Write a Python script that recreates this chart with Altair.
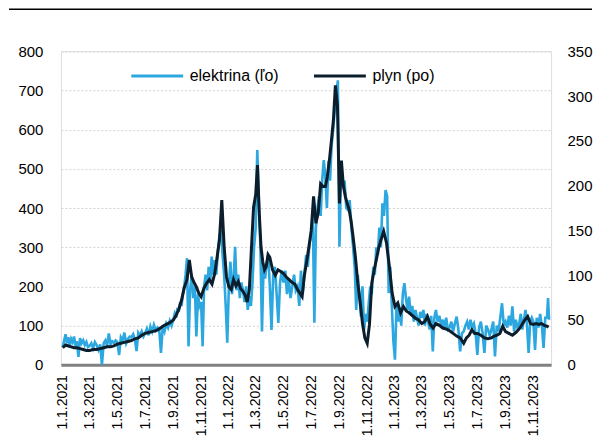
import altair as alt
import pandas as pd

ELEC_NAME = "elektrina (ľo)"
GAS_NAME = "plyn (po)"
BLUE = "#2ca7e0"
DARK = "#0c1e2c"

# electricity (left axis), one list per month
ELEC_2021 = [
    [45, 62, 78, 55, 70, 48, 66, 58, 72, 50],
    [60, 20, 68, 55, 62, 50, 58, 45],
    [48, 55, 42, 58, 50, 38, 52, 0],
    [55, 62, 48, 80, 52, 60, 56, 62],
    [58, 25, 70, 62, 82, 55, 66, 72],
    [70, 78, 65, 35, 82, 75, 85, 72],
    [80, 92, 75, 98, 85, 102, 88, 95],
    [90, 30, 98, 85, 105, 95, 112, 100],
    [115, 130, 120, 145, 135, 160, 150, 180, 200, 230],
    [272, 47, 190, 230, 170, 200, 72, 180, 150],
    [160, 47, 200, 230, 190, 250, 210, 276, 230],
    [267, 230, 290, 330, 344, 280, 230, 150, 56],
]
ELEC_2022 = [
    [200, 263, 180, 220, 301, 190, 230, 170, 210],
    [190, 160, 200, 140, 175, 150, 210, 301],
    [350, 548, 420, 300, 85, 250, 220, 260, 280],
    [200, 89, 230, 250, 180, 107, 210, 240],
    [210, 240, 180, 220, 170, 200, 230, 190],
    [200, 150, 240, 180, 230, 280, 250, 310],
    [330, 380, 107, 350, 400, 430, 380, 470, 522],
    [480, 400, 520, 470, 560, 600, 650, 690, 726],
    [301, 500, 450, 470, 400, 395, 420, 350],
    [300, 250, 140, 230, 180, 123, 200, 89, 130],
    [110, 157, 200, 180, 250, 230, 300, 280, 350],
    [300, 412, 380, 446, 430, 183, 250, 150, 60],
]
ELEC_2023 = [
    [13, 157, 110, 140, 100, 180, 208, 170, 140],
    [174, 130, 150, 110, 140, 120, 100, 135],
    [120, 140, 100, 130, 110, 90, 125, 34, 120],
    [140, 110, 125, 100, 115, 95, 120, 90],
    [95, 110, 85, 105, 123, 90, 34, 80],
    [85, 100, 110, 90, 115, 95, 105, 80],
    [25, 95, 110, 80, 30, 100, 90, 75],
    [90, 110, 21, 100, 85, 120, 157, 100],
    [110, 95, 125, 100, 149, 85, 115, 95],
    [105, 130, 90, 115, 140, 100, 30, 110, 120],
    [110, 38, 120, 95, 130, 100, 43, 120],
    [120, 170, 115],
]

# gas (right axis), one list per month
GAS_2021 = [
    [19, 22, 21, 20, 19],
    [19, 18, 17, 16],
    [16, 17, 17, 18],
    [19, 20, 20, 21],
    [23, 24, 25, 26],
    [27, 29, 30, 33],
    [35, 36, 37, 38],
    [40, 43, 45, 47],
    [50, 55, 62, 72, 86],
    [95, 117, 98, 92, 87, 80],
    [76, 85, 91, 95, 90],
    [102, 120, 139, 184, 132, 98],
]
GAS_2022 = [
    [87, 84, 95, 88, 93, 85],
    [82, 78, 70, 84, 130, 176],
    [190, 223, 170, 132, 115, 106, 110, 123],
    [120, 106, 100, 106, 104],
    [102, 98, 95, 92, 90],
    [84, 80, 76, 100, 115, 132],
    [150, 188, 158, 170, 202, 199],
    [199, 210, 228, 250, 273, 312, 290],
    [180, 228, 200, 188, 180, 173, 160],
    [143, 120, 91, 70, 46, 30],
    [24, 45, 91, 105, 117, 130],
    [139, 149, 136, 110, 80],
]
GAS_2023 = [
    [65, 69, 58, 65, 60],
    [58, 55, 52, 50],
    [46, 48, 54, 45, 41],
    [46, 44, 41, 40],
    [38, 35, 32, 30],
    [24, 30, 33, 39, 35],
    [35, 33, 30, 29],
    [30, 32, 33, 35, 43],
    [37, 35, 33, 36],
    [40, 45, 50, 54, 46],
    [45, 46, 45, 46, 44],
    [43, 42],
]

ELEC_YEARS = {2021: ELEC_2021, 2022: ELEC_2022, 2023: ELEC_2023}
GAS_YEARS = {2021: GAS_2021, 2022: GAS_2022, 2023: GAS_2023}
LAST_DAY = pd.Timestamp("2023-12-08")


def build(years, name):
    rows = []
    for year, months in years.items():
        for mi, vals in enumerate(months):
            start = pd.Timestamp(year=year, month=mi + 1, day=1)
            end = start + pd.offsets.MonthBegin(1)
            if end > LAST_DAY:
                end = LAST_DAY
            span = end - start
            n = len(vals)
            for k, v in enumerate(vals):
                d = (start + span * k / n).round("h")
                rows.append({"date": d, "value": v, "series": name})
    return pd.DataFrame(rows)


elec_df = build(ELEC_YEARS, ELEC_NAME)
gas_df = build(GAS_YEARS, GAS_NAME)

FONT = "Liberation Sans"
tick_dates = [alt.DateTime(year=y, month=m, date=1)
              for y in (2021, 2022, 2023) for m in (1, 3, 5, 7, 9, 11)]

x_enc = alt.X(
    "date:T",
    scale=alt.Scale(domain=[alt.DateTime(year=2020, month=12, date=28),
                            alt.DateTime(year=2023, month=12, date=10)]),
    axis=alt.Axis(values=tick_dates, format="%-d.%-m.%Y", labelAngle=-90,
                  title=None, ticks=False, tickSize=0, grid=False,
                  domainColor="#808080", domainWidth=3, labelPadding=10,
                  labelFontSize=14, labelFont=FONT, labelColor="#000000"),
)

color_enc = alt.Color(
    "series:N",
    scale=alt.Scale(domain=[ELEC_NAME, GAS_NAME], range=[BLUE, DARK]),
    legend=alt.Legend(title=None, orient="none", legendX=69, legendY=-3,
                      direction="horizontal", symbolType="stroke",
                      symbolSize=2700, symbolStrokeWidth=3, labelFontSize=16,
                      labelFont=FONT, labelColor="#000000", labelOffset=5,
                      columnPadding=28),
)

elec = alt.Chart(elec_df).mark_line(strokeWidth=2.6).encode(
    x=x_enc,
    y=alt.Y("value:Q", scale=alt.Scale(domain=[0, 800], nice=False),
            axis=alt.Axis(orient="left", values=list(range(0, 801, 100)),
                          title=None, domain=False, ticks=False, tickSize=0,
                          labelPadding=18, labelFontSize=15, labelFont=FONT,
                          labelColor="#000000", grid=True, gridColor="#d4d4d4",
                          gridDash=[2, 2], gridWidth=1)),
    color=color_enc,
)

gas = alt.Chart(gas_df).mark_line(strokeWidth=3).encode(
    x=x_enc,
    y=alt.Y("value:Q", scale=alt.Scale(domain=[0, 350], nice=False),
            axis=alt.Axis(orient="right", values=list(range(0, 351, 50)),
                          title=None, domain=False, ticks=False, tickSize=0,
                          labelPadding=16, labelFontSize=15, labelFont=FONT,
                          labelColor="#000000", grid=False)),
    color=color_enc,
)

top_rule = alt.Chart(pd.DataFrame({"k": [0]})).mark_rule(
    color="#000000", strokeWidth=1.5
).encode(x=alt.value(-52), x2=alt.value(532), y=alt.value(-42))

chart = (
    alt.layer(elec, gas, top_rule)
    .resolve_scale(y="independent")
    .properties(width=491, height=314,
                padding={"left": 0, "top": 0, "right": 0, "bottom": 0})
    .configure_view(stroke=None)
    .configure(background="#ffffff")
)

chart.save("out.html", embed_options={"renderer": "svg", "actions": False})
